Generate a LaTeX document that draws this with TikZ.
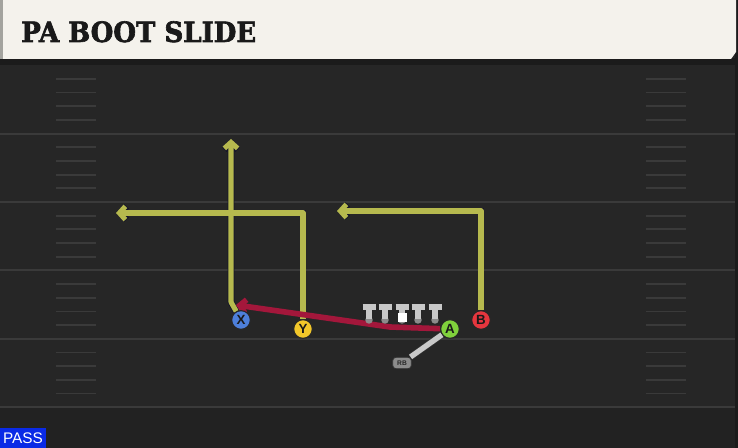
\documentclass[tikz,border=0pt]{standalone}
\usepackage{fontspec}
\usepackage{xcolor}
\usetikzlibrary{arrows.meta, positioning, calc}
\newfontfamily\titlefont[FakeBold=2.2, FakeStretch=0.93]{DejaVu Serif Bold}
\newfontfamily\labelfont{Liberation Sans}
\definecolor{fieldbg}{HTML}{262626}
\definecolor{fieldlow}{HTML}{222222}
\definecolor{fieldline}{HTML}{3A3A3A}
\definecolor{bandbg}{HTML}{1B1B1B}
\definecolor{titlebg}{HTML}{F4F2EC}
\definecolor{titleedge}{HTML}{A3A39E}
\definecolor{routeyellow}{HTML}{B6B94E}
\definecolor{routeedge}{HTML}{14142A}
\definecolor{qbred}{HTML}{A3173B}
\definecolor{rbgray}{HTML}{C8C8C8}
\definecolor{xblue}{HTML}{4D7FDA}
\definecolor{yyellow}{HTML}{F2C72A}
\definecolor{agreen}{HTML}{80D13C}
\definecolor{bred}{HTML}{E5363E}
\definecolor{passblue}{HTML}{0A2AE6}
\pgfdeclarelayer{field}
\pgfdeclarelayer{paths}
\pgfsetlayers{field,paths,main}

\begin{document}
\begin{tikzpicture}[x=0.75pt, y=-0.75pt,
    player/.style={circle, draw=black!85, line width=0.8pt, minimum size=14pt, inner sep=0pt, font=\labelfont\bfseries\fontsize{10}{10}\selectfont, text=black!90},
    lineman/.style={line width=4pt, color=rbgray},
    route/.style={line width=3.8pt, color=routeyellow, line join=round, -{Straight Barb[length=4.5pt, width=10pt]}, preaction={draw=routeedge, line width=5pt}},
    qbpath/.style={line width=4.2pt, color=qbred, line join=round, -{Straight Barb[length=4.5pt, width=10pt]}},
    rbpath/.style={line width=4pt, color=rbgray, preaction={draw=black!80, line width=5pt}},
    yardline/.style={line width=1.6pt, color=fieldline},
    hashmark/.style={line width=1.3pt, color=fieldline}
]
\useasboundingbox (0,0) rectangle (738,448);

% Field
\begin{pgfonlayer}{field}
\fill[fieldbg] (0,0) rectangle (738,448);
\fill[fieldlow] (0,407) rectangle (738,448);
\fill[bandbg] (735,0) rectangle (738,448);
\foreach \l in {1,...,5}
  \draw[yardline] (0,65.2+68.4*\l) -- (735,65.2+68.4*\l);
\foreach \l in {0,...,4}
  \foreach \h in {1,...,4} {
    \draw[hashmark] (56,65.2+68.4*\l+13.68*\h) -- (96,65.2+68.4*\l+13.68*\h);
    \draw[hashmark] (646,65.2+68.4*\l+13.68*\h) -- (686,65.2+68.4*\l+13.68*\h);
  }
% Title bar
\fill[bandbg] (0,58) rectangle (738,65);
\fill[titlebg] (0,0) -- (736,0) -- (736,52) -- (731,59) -- (0,59) -- cycle;
\fill[titleedge] (0,0) rectangle (3,59);
\end{pgfonlayer}
\node[anchor=base west, inner sep=0pt, font=\titlefont\fontsize{21}{21}\selectfont, text=black!90] (title) at (21,42) {PA BOOT SLIDE};

% Offensive line
\foreach \x/\n in {369/lt,385/lg,402/ctr,418/rg,435/rt} {
  \fill[black!45] (\x,320) circle (2.8pt);
  \draw[lineman] (\x-6.5,307) -- (\x+6.5,307);
  \draw[lineman] (\x,307) -- (\x,319);
  \coordinate (\n) at (\x,314);
}
\fill[white] (397.5,313) rectangle (406.5,322);

% Players
\node[player, fill=xblue] (X) at (241,320) {X};
\node[player, fill=yyellow] (Y) at (303,329) {Y};
\node[player, fill=agreen] (A) at (450,329) {A};
\node[player, fill=bred] (B) at (481,320) {B};
\node[rectangle, rounded corners=2.5pt, fill=black!45, draw=black!80, line width=0.6pt, minimum width=14pt, minimum height=8.5pt, inner sep=0pt, font=\labelfont\bfseries\fontsize{5}{5}\selectfont, text=black!85] (RB) at (402,363) {RB};

% Routes
\coordinate (xbreak) at (231,302);
\coordinate (xend) at (231,139);
\coordinate (ybreak) at (303,213);
\coordinate (yend) at (116,213);
\coordinate (bbreak) at (481,211);
\coordinate (bend) at (337,211);
\coordinate (qbbend) at (390,327);
\coordinate (qbend) at (236,305);
\begin{pgfonlayer}{paths}
\draw[route] (X) -- (xbreak) -- (xend);
\draw[route] (Y) -- (ybreak) -- (yend);
\draw[route] (B) -- (bbreak) -- (bend);
\draw[qbpath] (A) -- (qbbend) -- (qbend);
\draw[rbpath] (RB) -- (A);
\end{pgfonlayer}

% Play type
\node[anchor=south west, fill=passblue, text=white, minimum width=34pt, minimum height=15pt, inner sep=1pt, font=\labelfont\fontsize{11.5}{11.5}\selectfont] (playtype) at (0,448) {PASS};
\end{tikzpicture}
\end{document}
